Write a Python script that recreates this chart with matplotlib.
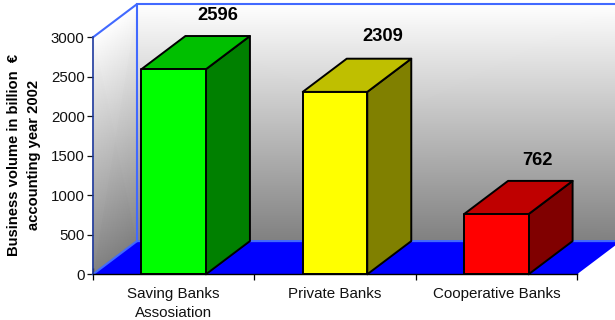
import numpy as np
import matplotlib
matplotlib.use('Agg')
import matplotlib.pyplot as plt
from matplotlib.patches import Polygon

plt.rcParams['font.family'] = ['Liberation Sans', 'DejaVu Sans']

categories = ['Saving Banks\nAssosiation', 'Private Banks', 'Cooperative Banks']
volumes = [2596, 2309, 762]
y_ticks = [0, 500, 1000, 1500, 2000, 2500, 3000]

front_colors = ['#00ff00', '#ffff00', '#ff0000']
top_colors = ['#00bf00', '#bfbf00', '#bf0000']
side_colors = ['#008000', '#808000', '#800000']
# value labels were placed by hand, offsets from the back top edge in points
label_offsets = [(0.3, 14.6), (2.7, 16), (-2.2, 14.6)]

W, H = 615, 320
DPI = 100
# plot rectangle in pixels
left, right, bottom, top = 93, 577, 274.3, 37.3

fig = plt.figure(figsize=(W / DPI, H / DPI), dpi=DPI, facecolor='white')
ax = fig.add_axes([left / W, 1 - bottom / H, (right - left) / W, (bottom - top) / H])
ax.set_xlim(0, 3)
ax.set_ylim(0, 3000)
ax.patch.set_visible(False)

# depth of the 3d box in data units
dx = 44 / ((right - left) / 3)
dy = 33.2 / ((bottom - top) / 3000)
bar_w = 0.4

gray = matplotlib.colors.LinearSegmentedColormap.from_list('wall', ['#808080', '#ffffff'])

# back wall
xs = np.array([dx, 3 + dx])
ys = np.array([dy, 3000 + dy])
X, Y = np.meshgrid(xs, ys)
C = np.array([[0, 0], [1, 1]])
ax.pcolormesh(X, Y, C, cmap=gray, shading='gouraud', clip_on=False, zorder=1)

# left wall, gradient sheared along the depth
X2 = np.array([[0, dx], [0, dx]])
Y2 = np.array([[0, dy], [3000, 3000 + dy]])
ax.pcolormesh(X2, Y2, C, cmap=gray, shading='gouraud', clip_on=False, zorder=1)

# floor
floor = Polygon([(0, 0), (3, 0), (3 + dx, dy), (dx, dy)], closed=True,
                facecolor='#0000ff', edgecolor='none', clip_on=False, zorder=2)
ax.add_patch(floor)

# wall outlines
edge = '#4169ff'
ax.plot([0, dx, dx], [3000, 3000 + dy, dy], color=edge, lw=1.5, clip_on=False, zorder=3)
ax.plot([dx, 3 + dx], [3000 + dy, 3000 + dy], color=edge, lw=1.5, clip_on=False, zorder=3)
ax.plot([0, dx, 3 + dx], [0, dy, dy], color=edge, lw=1.5, clip_on=False, zorder=3)
ax.plot([0, 0], [0, 3000], color='#1f3a9e', lw=1.2, clip_on=False, zorder=3)

# bars
for i, v in enumerate(volumes):
    x0 = i + 0.5 - bar_w / 2
    x1 = i + 0.5 + bar_w / 2
    style = dict(edgecolor='black', lw=1.4, joinstyle='round', clip_on=False, zorder=4 + i)
    ax.add_patch(Polygon([(x1, 0), (x1 + dx, dy), (x1 + dx, v + dy), (x1, v)],
                         facecolor=side_colors[i], **style))
    ax.add_patch(Polygon([(x0, v), (x1, v), (x1 + dx, v + dy), (x0 + dx, v + dy)],
                         facecolor=top_colors[i], **style))
    ax.add_patch(Polygon([(x0, 0), (x1, 0), (x1, v), (x0, v)],
                         facecolor=front_colors[i], **style))
    ax.annotate(str(v), (i + 0.5 + dx, v + dy), xytext=label_offsets[i], textcoords='offset points',
                ha='center', va='center', fontsize=13.2, fontweight='bold',
                color='black', zorder=10, annotation_clip=False)

# axes
for s in ['top', 'right', 'left']:
    ax.spines[s].set_visible(False)
ax.spines['bottom'].set_linewidth(1.0)
ax.spines['bottom'].set_zorder(9)
ax.set_yticks(y_ticks)
ax.tick_params(axis='y', length=4, width=0.9, labelsize=10.8, pad=2, colors='#111111')
ax.set_xticks([0, 1, 2, 3])
ax.set_xticklabels([])
ax.tick_params(axis='x', which='major', length=8, width=0.9, direction='inout')
ax.set_xticks([0.5, 1.5, 2.5], minor=True)
ax.set_xticklabels(categories, minor=True, fontsize=10.9, color='#111111', linespacing=1.5)
ax.tick_params(axis='x', which='minor', length=0, pad=9)

fig.text(14 / W, 1 - 155 / H, 'Business volume in billion  €', rotation=90,
         ha='center', va='center', fontsize=10.6, fontweight='bold')
fig.text(34 / W, 1 - 155 / H, 'accounting year 2002', rotation=90,
         ha='center', va='center', fontsize=10.6, fontweight='bold')

fig.savefig('out.png', dpi=DPI)
